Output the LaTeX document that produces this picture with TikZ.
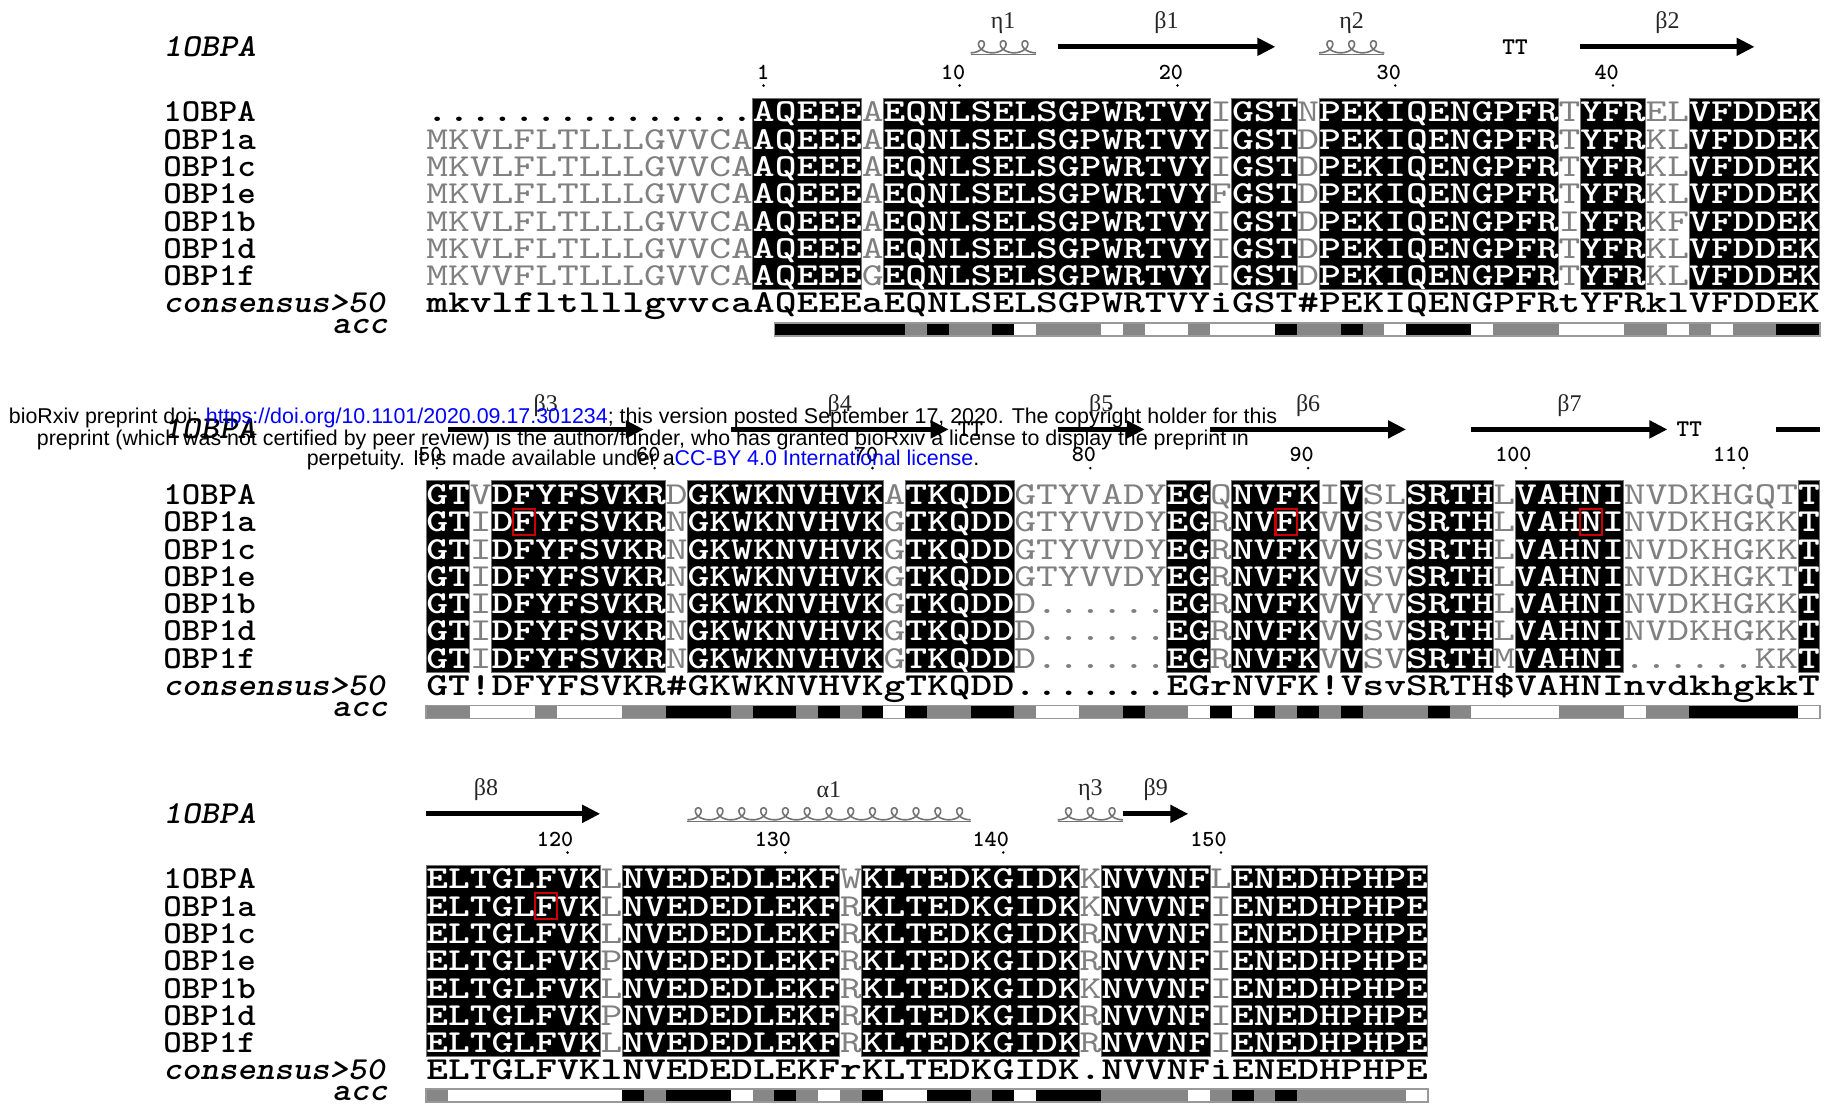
\documentclass[tikz,border=0pt]{standalone}
\usepackage{fontspec}
\usetikzlibrary{arrows.meta}
\newfontfamily\seqbold{lmmonolt10-bold.otf}[FakeStretch=1.296]
\newfontfamily\seqthin{lmmono10-regular.otf}[FakeStretch=1.296]
\newfontfamily\namebold{lmmonolt10-bold.otf}[FakeStretch=1.1]
\newfontfamily\nameital{lmmonolt10-boldoblique.otf}[FakeStretch=1.1]
\newfontfamily\numbold{lmmonolt10-bold.otf}
\newfontfamily\ppfont{Liberation Sans}
\newfontfamily\ssfont{Liberation Serif}
\definecolor{linkblue}{RGB}{0,0,255}
\colorlet{seqgrey}{black!50}
\colorlet{accB}{black}
\colorlet{accG}{black!47}
\colorlet{accW}{white}
\newcommand\colL[1]{426+(#1-1)*21.78}
\newcommand\ncv[1]{{\seqthin\color{seqgrey}#1}}
\tikzset{
    seqrow/.style={anchor=base west, inner sep=0pt, text=white,
        font=\seqbold\fontsize{16}{16}\selectfont},
    consrow/.style={seqrow, text=black},
    seqname/.style={anchor=base west, inner sep=0pt,
        font=\namebold\fontsize{16}{16}\selectfont},
    consname/.style={seqname, font=\nameital\fontsize{16}{16}\selectfont},
    idbox/.style={fill=black, draw=black!55, line width=0.5pt},
    redbox/.style={draw=red!80!black, line width=1.1pt},
    accframe/.style={draw=black!40, line width=0.6pt},
    numlab/.style={anchor=base east, inner sep=0pt,
        font=\numbold\fontsize{11.5}{11.5}\selectfont},
    sslab/.style={inner sep=0pt, text=black!85,
        font=\ssfont\fontsize{12}{12}\selectfont},
    ttlab/.style={inner sep=0pt, font=\numbold\fontsize{12}{12}\selectfont},
    strandarrow/.style={line width=2.4pt, -{Triangle[length=9pt,width=8.5pt]}},
    helixline/.style={draw=black!55, line width=0.8pt},
    preprint/.style={inner sep=0pt, font=\ppfont\fontsize{10.7}{11}\selectfont}
}
% strand: first col, last col, y, name, label
\newcommand\sstrand[5]{%
    \draw[strandarrow] ({\colL{#1}},#3) -- ({\colL{#2}+21.78},#3);
    \node[sslab] (#4) at ({(\colL{#1}+\colL{#2}+21.78)/2},#3-24) {#5};}
% helix: first col, loops, y, name, label
\newcommand\shelix[5]{%
    \pgfmathsetmacro\hend{180+360*#2}
    \draw[helixline] plot[domain=180:\hend, samples=301]
        ({\colL{#1}+0.0605*(\x-180)-7.5*sin(\x)}, {#3-6*cos(\x)});
    \draw[helixline] ({\colL{#1}},#3+7.5) -- ({\colL{#1}+21.78*#2},#3+7.5);
    \node[sslab] (#4) at ({\colL{#1}+10.89*#2},#3-24) {#5};}
% acc bar: first col, last col, top y, list
\newcommand\accbar[4]{%
    \foreach \ac [count=\i from #1] in {#4}
        \fill[acc\ac] ({\colL{\i}},#3) rectangle ({\colL{\i}+21.78},#3+13);
    \draw[accframe] ({\colL{#1}},#3) rectangle ({\colL{#2}+21.78},#3+13);}
\begin{document}
\begin{tikzpicture}[x=0.5pt, y=-0.5pt]
\useasboundingbox (0,0) rectangle (1829,1105);

% identity boxes
\foreach \fc/\lc in {16/20,22/36,38/40,42/52,54/56,59/64}
    \fill[idbox] ({\colL{\fc}},98.35) rectangle ({\colL{\lc}+21.78},289.45);
\foreach \fc/\lc in {1/2,4/11,13/21,23/27,35/36,38/41,43/43,46/49,51/55,64/64}
    \fill[idbox] ({\colL{\fc}},480.95) rectangle ({\colL{\lc}+21.78},672.05);
\foreach \fc/\lc in {1/8,10/19,21/30,32/36,38/46}
    \fill[idbox] ({\colL{\fc}},865.35) rectangle ({\colL{\lc}+21.78},1056.45);

% names
\foreach \bk/\yb in {1/121.8,2/504.4,3/888.8}{
    \node[consname] (hd\bk) at (163,\yb-65.5) {1OBPA};
    \foreach \nm [count=\i from 0] in {1OBPA,OBP1a,OBP1c,OBP1e,OBP1b,OBP1d,OBP1f}
        \node[seqname] (n\bk-\i) at (163,{\yb+27.3*\i}) {\nm};
    \node[consname] (n\bk-c) at (163,\yb+191.1) {consensus>50};
    \node[consname, anchor=base east] (n\bk-acc) at (388,\yb+212) {acc};
}

% block 1
\node[seqrow] (s1-0) at (426,121.8) {{\color{black}...............}AQEEE\ncv{A}EQNLSELSGPWRTVY\ncv{I}GST\ncv{N}PEKIQENGPFR\ncv{T}YFR\ncv{EL}VFDDEK};
\node[seqrow] (s1-1) at (426,149.1) {\ncv{MKVLFLTLLLGVVCA}AQEEE\ncv{A}EQNLSELSGPWRTVY\ncv{I}GST\ncv{D}PEKIQENGPFR\ncv{T}YFR\ncv{KL}VFDDEK};
\node[seqrow] (s1-2) at (426,176.4) {\ncv{MKVLFLTLLLGVVCA}AQEEE\ncv{A}EQNLSELSGPWRTVY\ncv{I}GST\ncv{D}PEKIQENGPFR\ncv{T}YFR\ncv{KL}VFDDEK};
\node[seqrow] (s1-3) at (426,203.7) {\ncv{MKVLFLTLLLGVVCA}AQEEE\ncv{A}EQNLSELSGPWRTVY\ncv{F}GST\ncv{D}PEKIQENGPFR\ncv{T}YFR\ncv{KL}VFDDEK};
\node[seqrow] (s1-4) at (426,231.0) {\ncv{MKVLFLTLLLGVVCA}AQEEE\ncv{A}EQNLSELSGPWRTVY\ncv{I}GST\ncv{D}PEKIQENGPFR\ncv{I}YFR\ncv{KF}VFDDEK};
\node[seqrow] (s1-5) at (426,258.3) {\ncv{MKVLFLTLLLGVVCA}AQEEE\ncv{A}EQNLSELSGPWRTVY\ncv{I}GST\ncv{D}PEKIQENGPFR\ncv{T}YFR\ncv{KL}VFDDEK};
\node[seqrow] (s1-6) at (426,285.6) {\ncv{MKVVFLTLLLGVVCA}AQEEE\ncv{G}EQNLSELSGPWRTVY\ncv{I}GST\ncv{D}PEKIQENGPFR\ncv{T}YFR\ncv{KL}VFDDEK};
\node[consrow] (s1-c) at (426,312.9) {mkvlfltlllgvvcaAQEEEaEQNLSELSGPWRTVYiGST\#PEKIQENGPFRtYFRklVFDDEK};
\accbar{17}{64}{323}{B,B,B,B,B,B,G,B,G,G,B,W,G,G,G,W,G,W,W,G,W,W,W,B,G,G,B,G,W,B,B,B,W,G,G,G,W,W,W,G,G,W,G,W,G,G,B,B}
\foreach \n/\k in {1/16,10/25,20/35,30/45,40/55}{
    \node[numlab] (num\n) at ({\colL{\k}+16.93},79.3) {\n};
    \fill ({\colL{\k}+10.89},85.5) circle[radius=1.4];
}
\shelix{26}{3}{46.8}{h1}{η1}
\sstrand{30}{39}{46.8}{e1}{β1}
\shelix{42}{3}{46.8}{h2}{η2}
\node[ttlab] (tt1) at ({\colL{50}+21.78},46.8) {TT};
\sstrand{54}{61}{46.8}{e2}{β2}

% block 2
\node[seqrow] (s2-0) at (426,504.4) {GT\ncv{V}DFYFSVKR\ncv{D}GKWKNVHVK\ncv{A}TKQDD\ncv{GTYVADY}EG\ncv{Q}NVFK\ncv{I}V\ncv{SL}SRTH\ncv{L}VAHNI\ncv{NVDKHGQT}T};
\node[seqrow] (s2-1) at (426,531.7) {GT\ncv{I}DFYFSVKR\ncv{N}GKWKNVHVK\ncv{G}TKQDD\ncv{GTYVVDY}EG\ncv{R}NVFK\ncv{V}V\ncv{SV}SRTH\ncv{L}VAHNI\ncv{NVDKHGKK}T};
\node[seqrow] (s2-2) at (426,559.0) {GT\ncv{I}DFYFSVKR\ncv{N}GKWKNVHVK\ncv{G}TKQDD\ncv{GTYVVDY}EG\ncv{R}NVFK\ncv{V}V\ncv{SV}SRTH\ncv{L}VAHNI\ncv{NVDKHGKK}T};
\node[seqrow] (s2-3) at (426,586.3) {GT\ncv{I}DFYFSVKR\ncv{N}GKWKNVHVK\ncv{G}TKQDD\ncv{GTYVVDY}EG\ncv{R}NVFK\ncv{V}V\ncv{SV}SRTH\ncv{L}VAHNI\ncv{NVDKHGKT}T};
\node[seqrow] (s2-4) at (426,613.6) {GT\ncv{I}DFYFSVKR\ncv{N}GKWKNVHVK\ncv{G}TKQDD\ncv{D......}EG\ncv{R}NVFK\ncv{V}V\ncv{YV}SRTH\ncv{L}VAHNI\ncv{NVDKHGKK}T};
\node[seqrow] (s2-5) at (426,640.9) {GT\ncv{I}DFYFSVKR\ncv{N}GKWKNVHVK\ncv{G}TKQDD\ncv{D......}EG\ncv{R}NVFK\ncv{V}V\ncv{SV}SRTH\ncv{L}VAHNI\ncv{NVDKHGKK}T};
\node[seqrow] (s2-6) at (426,668.2) {GT\ncv{I}DFYFSVKR\ncv{N}GKWKNVHVK\ncv{G}TKQDD\ncv{D......}EG\ncv{R}NVFK\ncv{V}V\ncv{SV}SRTH\ncv{M}VAHNI\ncv{......KK}T};
\node[consrow] (s2-c) at (426,695.5) {GT!DFYFSVKR\#GKWKNVHVKgTKQDD.......EGrNVFK!VsvSRTH\$VAHNInvdkhgkkT};
\accbar{1}{64}{705.6}{G,G,W,W,W,G,W,W,W,G,G,B,B,B,G,B,B,G,B,G,B,W,B,G,G,B,B,G,W,W,G,G,B,G,G,W,B,W,B,G,B,G,B,G,G,G,B,G,W,W,W,W,G,G,G,W,G,G,B,B,B,B,B,W}
\foreach \n/\k in {50/1,60/11,70/21,80/31,90/41,100/51,110/61}{
    \node[numlab] (num\n) at ({\colL{\k}+16.93},461.9) {\n};
    \fill ({\colL{\k}+10.89},468.1) circle[radius=1.4];
}
\sstrand{2}{10}{429.4}{e3}{β3}
\sstrand{15}{24}{429.4}{e4}{β4}
\node[ttlab] (tt2) at ({\colL{25}+21.78},429.4) {TT};
\sstrand{30}{33}{429.4}{e5}{β5}
\sstrand{37}{45}{429.4}{e6}{β6}
\sstrand{49}{57}{429.4}{e7}{β7}
\node[ttlab] (tt3) at ({\colL{58}+21.78},429.4) {TT};
\draw[line width=2.4pt] ({\colL{63}},429.4) -- ({\colL{64}+21.78},429.4);

% block 3
\node[seqrow] (s3-0) at (426,888.8) {ELTGLFVK\ncv{L}NVEDEDLEKF\ncv{W}KLTEDKGIDK\ncv{K}NVVNF\ncv{L}ENEDHPHPE};
\node[seqrow] (s3-1) at (426,916.1) {ELTGLFVK\ncv{L}NVEDEDLEKF\ncv{R}KLTEDKGIDK\ncv{K}NVVNF\ncv{I}ENEDHPHPE};
\node[seqrow] (s3-2) at (426,943.4) {ELTGLFVK\ncv{L}NVEDEDLEKF\ncv{R}KLTEDKGIDK\ncv{R}NVVNF\ncv{I}ENEDHPHPE};
\node[seqrow] (s3-3) at (426,970.7) {ELTGLFVK\ncv{P}NVEDEDLEKF\ncv{R}KLTEDKGIDK\ncv{R}NVVNF\ncv{I}ENEDHPHPE};
\node[seqrow] (s3-4) at (426,998.0) {ELTGLFVK\ncv{L}NVEDEDLEKF\ncv{R}KLTEDKGIDK\ncv{K}NVVNF\ncv{I}ENEDHPHPE};
\node[seqrow] (s3-5) at (426,1025.3) {ELTGLFVK\ncv{P}NVEDEDLEKF\ncv{R}KLTEDKGIDK\ncv{R}NVVNF\ncv{I}ENEDHPHPE};
\node[seqrow] (s3-6) at (426,1052.6) {ELTGLFVK\ncv{L}NVEDEDLEKF\ncv{R}KLTEDKGIDK\ncv{R}NVVNF\ncv{I}ENEDHPHPE};
\node[consrow] (s3-c) at (426,1079.9) {ELTGLFVKlNVEDEDLEKFrKLTEDKGIDK.NVVNFiENEDHPHPE};
\accbar{1}{46}{1089}{G,W,W,W,W,W,W,W,W,B,G,B,B,B,W,G,B,G,W,G,B,W,W,B,B,G,B,W,B,B,B,G,G,G,G,W,G,B,G,B,G,G,G,G,G,W}
\foreach \n/\k in {120/7,130/17,140/27,150/37}{
    \node[numlab] (num\n) at ({\colL{\k}+16.93},846.3) {\n};
    \fill ({\colL{\k}+10.89},852.5) circle[radius=1.4];
}
\draw[strandarrow] ({\colL{1}},813.8) -- ({\colL{8}+21.78},813.8);
\node[sslab] (e8) at (486,789.8) {β8};
\shelix{13}{13}{813.8}{h4}{α1}
\shelix{30}{3}{813.8}{h3}{η3}
\sstrand{33}{35}{813.8}{e9}{β9}

% marked residues
\foreach \k in {5,40,54}
    \draw[redbox] ({\colL{\k}},508.9) rectangle ({\colL{\k}+21.78},534.9);
\draw[redbox] ({\colL{6}},893.3) rectangle ({\colL{6}+21.78},919.3);

% preprint notice
\node[preprint] (pp1) at (643,417.5) {bioRxiv preprint doi: \textcolor{linkblue}{https://doi.org/10.1101/2020.09.17.301234}; this version posted September 17, 2020. The copyright holder for this};
\node[preprint] (pp2) at (643,440) {preprint (which was not certified by peer review) is the author/funder, who has granted bioRxiv a license to display the preprint in};
\node[preprint] (pp3) at (643,460) {perpetuity. It is made available under a\textcolor{linkblue}{CC-BY 4.0 International license}.};
\end{tikzpicture}
\end{document}
